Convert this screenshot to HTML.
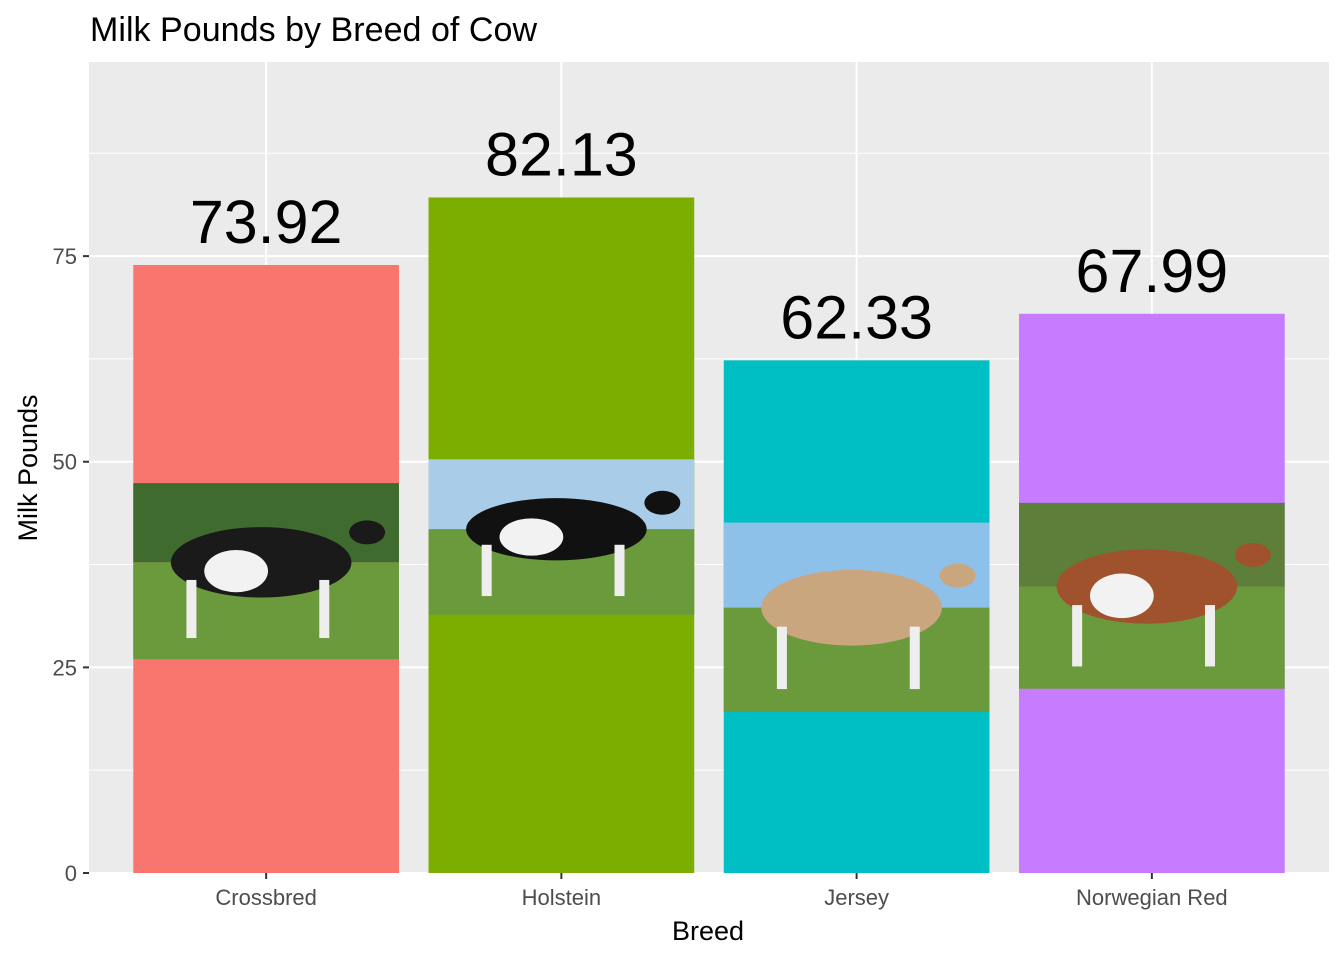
<!DOCTYPE html>
<html><head><meta charset="utf-8"><style>
body{margin:0;background:#fff;}
svg text{font-family:"Liberation Sans",Arial,sans-serif;}
</style></head><body>
<svg id="chart" width="1344" height="960" xmlns="http://www.w3.org/2000/svg">
<text x="90" y="41" font-size="34" fill="#000" textLength="447">Milk Pounds by Breed of Cow</text>
<rect x="89" y="62" width="1240" height="811" fill="#ebebeb"/>
<g id="grid"></g>
<g id="bars"></g>
<g id="axes"></g>
<text x="708" y="940" font-size="27" text-anchor="middle" fill="#000">Breed</text>
<text transform="translate(37,468) rotate(-90)" font-size="27" text-anchor="middle" fill="#000">Milk Pounds</text>
</svg>
<script>
const categories=["Crossbred","Holstein","Jersey","Norwegian Red"];
const values=[73.92,82.13,62.33,67.99];
const valueLabels=["73.92","82.13","62.33","67.99"];
const colors=["#F8766D","#7CAE00","#00BFC4","#C77CFF"];
const yTicks=[0,25,50,75];
const yMinor=[12.5,37.5,62.5,87.5];
// photo vertical extents in data units [bottom, top]
const photoLo=[26,31.4,19.6,22.4];
const photoHi=[47.4,50.3,42.6,45.0];
const NS="http://www.w3.org/2000/svg";
const px0=89,px1=1329,py0=873,py1=62,yMax=98.6;
function y(v){return py0-(v/yMax)*(py0-py1);}
function x(i){return px0+(i+0.6)*(px1-px0)/4.2;}
const bw=0.9*(px1-px0)/4.2;
function el(t,a,p){const e=document.createElementNS(NS,t);for(const k in a)e.setAttribute(k,a[k]);p.appendChild(e);return e;}
const grid=document.getElementById('grid'),bars=document.getElementById('bars'),axes=document.getElementById('axes');
yMinor.forEach(v=>{const l=el('line',{x1:px0,x2:px1,y1:y(v),y2:y(v),stroke:'#fff','stroke-width':1},grid);

});
yTicks.forEach(v=>{const l=el('line',{x1:px0,x2:px1,y1:y(v),y2:y(v),stroke:'#fff','stroke-width':2},grid);


const t=el('line',{x1:px0-6,x2:px0,y1:y(v),y2:y(v),stroke:'#333','stroke-width':2},axes);


const tx=el('text',{x:px0-12,y:y(v)+8,'font-size':22,'text-anchor':'end',fill:'#4d4d4d'},axes);tx.textContent=v;

});
categories.forEach((c,i)=>{const l=el('line',{x1:x(i),x2:x(i),y1:py1,y2:py0,stroke:'#fff','stroke-width':2},grid);

});
const cowCol=["#1a1a1a","#111","#c9a67e","#a0522d"];
const bgTop=["#3f6b2e","#a9cde8","#8ec1ea","#5d7f3a"];
categories.forEach((c,i)=>{
const cx=x(i),x0=cx-bw/2;
const b=el('rect',{x:x0,y:y(values[i]),width:bw,height:y(0)-y(values[i]),fill:colors[i]},bars);


const t=y(photoHi[i]),bt=y(photoLo[i]),h=bt-t;
const g=el('g',{},bars);


el('rect',{x:x0,y:t,width:bw,height:h*0.45,fill:bgTop[i]},g);
el('rect',{x:x0,y:t+h*0.45,width:bw,height:h*0.55,fill:'#6b9a3c'},g);
el('ellipse',{cx:cx-5,cy:t+h*0.45,rx:bw*0.34,ry:h*0.2,fill:cowCol[i]},g);
if(i!==2) el('ellipse',{cx:cx-30,cy:t+h*0.5,rx:bw*0.12,ry:h*0.12,fill:'#f2f2f2'},g);
el('rect',{x:cx-bw*0.3,y:t+h*0.55,width:10,height:h*0.33,fill:'#eee'},g);
el('rect',{x:cx+bw*0.2,y:t+h*0.55,width:10,height:h*0.33,fill:'#eee'},g);
el('ellipse',{cx:cx+bw*0.38,cy:t+h*0.28,rx:18,ry:12,fill:cowCol[i]},g);
const lb=el('text',{x:cx,y:y(values[i])-22,'font-size':61,'text-anchor':'middle',fill:'#000'},bars);lb.textContent=valueLabels[i];


const tk=el('line',{x1:cx,x2:cx,y1:py0,y2:py0+6,stroke:'#333','stroke-width':2},axes);


const tl=el('text',{x:cx,y:py0+32,'font-size':22,'text-anchor':'middle',fill:'#4d4d4d'},axes);tl.textContent=c;


});
</script>
</body></html>
